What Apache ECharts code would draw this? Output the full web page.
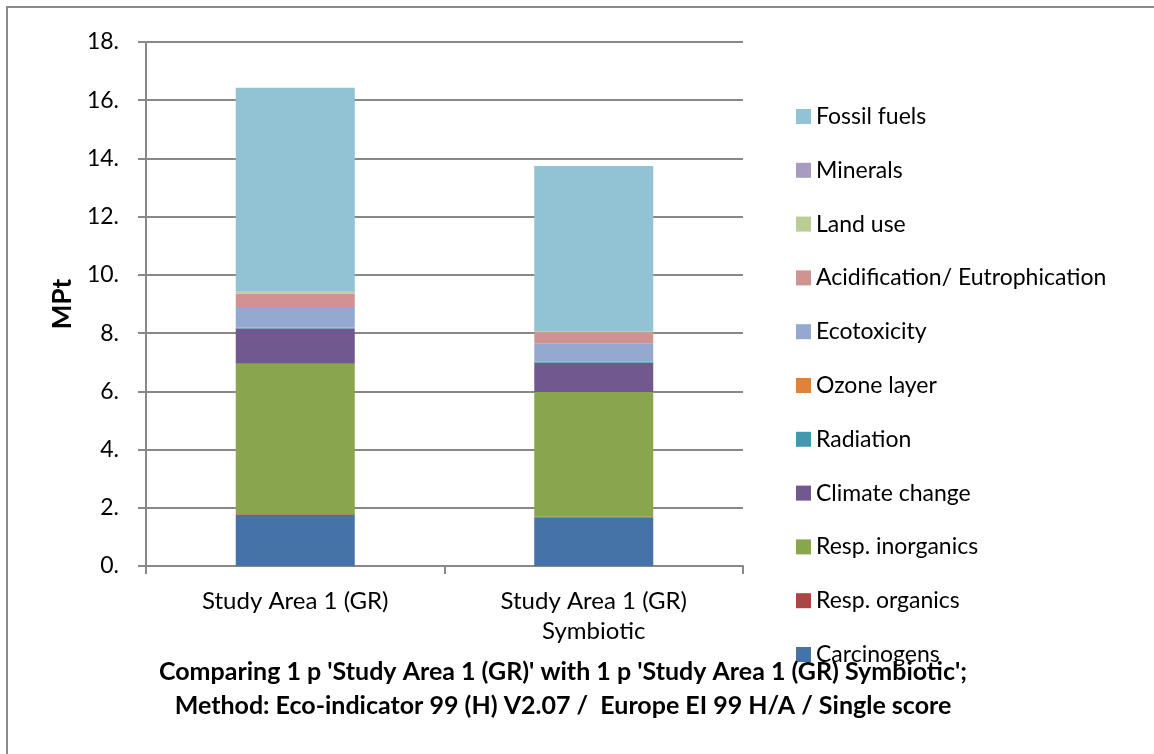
<!DOCTYPE html>
<html><head><meta charset="utf-8">
<script src="https://cdn.jsdelivr.net/npm/echarts@6/dist/echarts.min.js"></script>
<style>html,body{margin:0;padding:0;background:#fff}#c{width:1154px;height:754px}</style>
</head><body><div id="c"></div>
<script>
const categories = ['Study Area 1 (GR)', 'Study Area 1 (GR)\nSymbiotic'];
const seriesNames = ['Carcinogens','Resp. organics','Resp. inorganics','Climate change','Radiation','Ozone layer','Ecotoxicity','Acidification/ Eutrophication','Land use','Minerals','Fossil fuels'];
const carcinogens = [1.75, 1.67];
const respOrganics = [0.03, 0.02];
const respInorganics = [5.17, 4.29];
const climateChange = [1.21, 1.00];
const radiation = [0.02, 0.04];
const ozoneLayer = [0.01, 0.01];
const ecotoxicity = [0.71, 0.62];
const acidification = [0.46, 0.38];
const landUse = [0.06, 0.03];
const minerals = [0.01, 0.01];
const fossilFuels = [7.00, 5.67];
const yTicks = [0, 18, 2];
const seriesData = [carcinogens, respOrganics, respInorganics, climateChange, radiation, ozoneLayer, ecotoxicity, acidification, landUse, minerals, fossilFuels];
const colors = ['#4572A7','#AA4643','#89A54E','#71588F','#4198AF','#DB843D','#93A9CF','#D19392','#B9CD96','#A99BBD','#92C3D4'];

const FONT = 'Lato, "Open Sans", sans-serif';
const chart = echarts.init(document.getElementById('c'));
chart.setOption({
  animation: false,
  color: colors,
  graphic: [{type:'rect', shape:{x:7,y:7,width:1170,height:770}, style:{fill:'none', stroke:'#8a8a8a', lineWidth:2}}],
  title: {
    text: "Comparing 1 p 'Study Area 1 (GR)' with 1 p 'Study Area 1 (GR) Symbiotic';\nMethod: Eco-indicator 99 (H) V2.07 /  Europe EI 99 H/A / Single score",
    left: 558, top: 650, textAlign: 'center',
    textStyle: {fontFamily: FONT, fontSize: 25, fontWeight: 'bold', color: '#000', lineHeight: 34}
  },
  legend: {
    orient: 'vertical', left: 791, top: 100,
    data: seriesNames.slice().reverse(),
    itemWidth: 15, itemHeight: 15, itemGap: 30.8,
    icon: 'rect',
    textStyle: {fontFamily: FONT, fontSize: 23, color: '#000', lineHeight: 23}
  },
  grid: {left: 146, right: 411, top: 42, bottom: 188},
  xAxis: {
    type: 'category', data: categories,
    axisLine: {lineStyle: {color: '#888', width: 2}},
    axisTick: {show: true, length: 8, lineStyle: {color: '#888', width: 2}},
    axisLabel: {fontFamily: FONT, fontSize: 24, color: '#000', margin: 20, lineHeight: 30}
  },
  yAxis: {
    type: 'value', min: yTicks[0], max: yTicks[1], interval: yTicks[2],
    name: 'MPt', nameLocation: 'middle', nameGap: 70, nameRotate: 90,
    nameTextStyle: {fontFamily: FONT, fontSize: 26, fontWeight: 'bold', color: '#000'},
    axisLine: {show: true, lineStyle: {color: '#888', width: 2}},
    axisTick: {show: true, length: 8, lineStyle: {color: '#888', width: 2}},
    splitLine: {lineStyle: {color: '#888', width: 2}},
    axisLabel: {fontFamily: FONT, fontSize: 23, color: '#000', margin: 27, formatter: v => v + '.'}
  },
  series: seriesNames.map((n, i) => ({
    name: n, type: 'bar', stack: 'total', barWidth: 119,
    data: seriesData[i],
    itemStyle: {color: colors[i]}
  }))
});
</script></body></html>
